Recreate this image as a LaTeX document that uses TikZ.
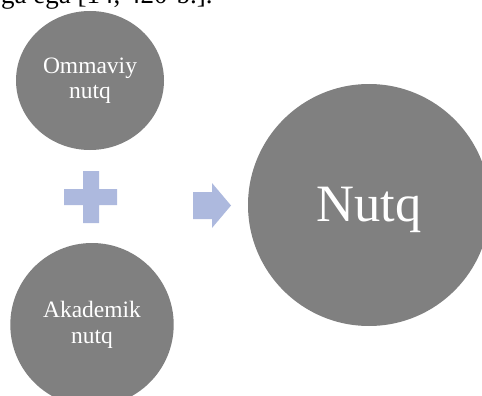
\documentclass[tikz,border=0pt]{standalone}
\usepackage{fontspec}
\setmainfont{Liberation Serif}
\usepackage{xcolor}
\usepackage{tikz}
\usetikzlibrary{shapes.geometric, positioning}
\definecolor{circlecolor}{RGB}{128,128,128}
\definecolor{signcolor}{RGB}{173,185,222}

\begin{document}
\begin{tikzpicture}[
    x=1pt, y=-1pt,
    bubble/.style={fill=circlecolor, text=white, inner sep=0pt, align=center},
    smalltext/.style={font=\fontsize{23.5}{25.5}\selectfont},
    sign/.style={fill=signcolor}
]
    \useasboundingbox (0,0) rectangle (482,396);
    \clip (0,0) rectangle (482,396);
    \node[anchor=base west, inner sep=0pt, font=\fontsize{27}{32}\selectfont] (cutline) at (1,4) {ga ega [14, 420-b.].};

    \node[bubble, ellipse, minimum width=148pt, minimum height=139pt, smalltext] (public) at (90,80.5) {Ommaviy\\nutq};
    \node[bubble, circle, minimum size=163.4pt, smalltext] (academic) at (92,324.7) {Akademik\\nutq};
    \node[bubble, circle, minimum size=242pt, font=\fontsize{52.5}{60}\selectfont, text depth=1pt] (speech) at (369,205) {Nutq};

    \fill[sign] (83,171) -- (99,171) -- (99,189) -- (117,189) -- (117,205) -- (99,205) -- (99,223) -- (83,223) -- (83,205) -- (64,205) -- (64,189) -- (83,189) -- cycle;
    \fill[sign] (193,192) -- (212,192) -- (212,183) -- (231,205.5) -- (212,228) -- (212,219) -- (193,219) -- cycle;
\end{tikzpicture}
\end{document}
